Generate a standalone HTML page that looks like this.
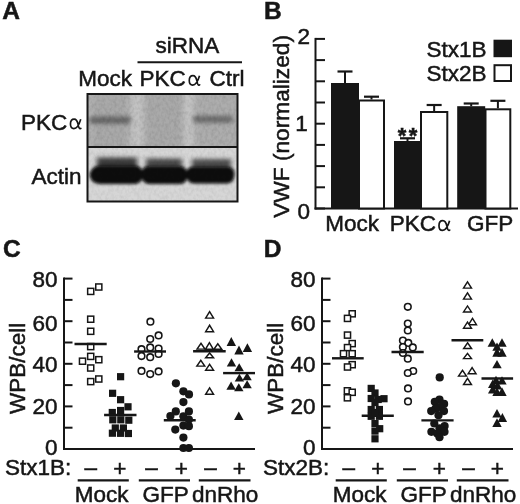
<!DOCTYPE html>
<html><head><meta charset="utf-8"><style>
html,body{margin:0;padding:0;background:#fff;}
body{width:520px;height:504px;overflow:hidden;}
svg{display:block;will-change:transform;font-family:"Liberation Sans",sans-serif;}
text{fill:#161616;stroke:#161616;stroke-width:0.5px;}
</style></head><body>
<svg width="520" height="504" viewBox="0 0 520 504">
<rect width="520" height="504" fill="#fff"/>
<text x="2.3" y="19.4" font-size="24.5" text-anchor="start" font-weight="bold" >A</text>
<text x="155.5" y="53" font-size="22.5" text-anchor="start" font-weight="normal" >siRNA</text>
<line x1="137.5" y1="62.2" x2="242" y2="62.2" stroke="#161616" stroke-width="2"/>
<text x="78.2" y="86" font-size="22.5" text-anchor="start" font-weight="normal" >Mock</text>
<text x="139.6" y="86" font-size="22.5" text-anchor="start" font-weight="normal" >PKC</text>
<path transform="translate(188.5 85.3) scale(0.95)" d="M11.6,-10.0 C10.6,-6.5 8.6,-0.2 4.4,-0.2 C1.9,-0.2 0.8,-2.6 0.8,-5.0 C0.8,-8.0 2.4,-10.1 4.7,-10.1 C7.2,-10.1 8.3,-7.2 8.9,-4.5 C9.3,-2.2 9.8,-0.2 10.9,-0.2 C11.4,-0.2 11.8,-0.6 12.0,-1.2" fill="none" stroke="#161616" stroke-width="1.75"/>
<text x="209.5" y="86" font-size="22.5" text-anchor="start" font-weight="normal" >Ctrl</text>
<text x="20.95" y="129.5" font-size="22.5" text-anchor="start" font-weight="normal" >PKC</text>
<path transform="translate(69.7 128.8) scale(0.95)" d="M11.6,-10.0 C10.6,-6.5 8.6,-0.2 4.4,-0.2 C1.9,-0.2 0.8,-2.6 0.8,-5.0 C0.8,-8.0 2.4,-10.1 4.7,-10.1 C7.2,-10.1 8.3,-7.2 8.9,-4.5 C9.3,-2.2 9.8,-0.2 10.9,-0.2 C11.4,-0.2 11.8,-0.6 12.0,-1.2" fill="none" stroke="#161616" stroke-width="1.75"/>
<text x="81.5" y="184" font-size="22.5" text-anchor="end" font-weight="normal" >Actin</text>
<defs>
<filter id="blur1" x="-20%" y="-50%" width="140%" height="200%"><feGaussianBlur stdDeviation="1.6 1.6"/></filter>
<filter id="blur2" x="-20%" y="-50%" width="140%" height="200%"><feGaussianBlur stdDeviation="2.6 2.2"/></filter>
<filter id="blur3" x="-5%" y="-5%" width="110%" height="110%"><feGaussianBlur stdDeviation="3 1"/></filter>
<filter id="noise" x="0" y="0" width="100%" height="100%"><feTurbulence type="fractalNoise" baseFrequency="0.35 0.25" numOctaves="2" seed="7"/><feColorMatrix type="matrix" values="0 0 0 0 0  0 0 0 0 0  0 0 0 0 0  1.2 0 0 0 -0.45"/></filter>
<filter id="blur4" x="-20%" y="-80%" width="140%" height="260%"><feGaussianBlur stdDeviation="2 2.2"/></filter>
<clipPath id="cpTop"><rect x="88" y="95" width="149" height="51"/></clipPath>
<clipPath id="cpBot"><rect x="88" y="148" width="149" height="53"/></clipPath>
</defs>
<g clip-path="url(#cpTop)">
<rect x="88" y="95" width="149" height="51" fill="#a9a9a9" stroke="none" stroke-width="0"/>
<g filter="url(#blur3)">
<rect x="130" y="93" width="14" height="56" fill="#c3c3c3" stroke="none" stroke-width="0"/>
<rect x="184" y="93" width="9" height="56" fill="#c8c8c8" stroke="none" stroke-width="0"/>
<rect x="88" y="93" width="4" height="56" fill="#b8b8b8" stroke="none" stroke-width="0"/>
<rect x="195" y="93" width="42" height="56" fill="#adadad" stroke="none" stroke-width="0"/>
</g>
<g filter="url(#blur4)">
<rect x="89.5" y="116.5" width="41.5" height="7.2" rx="3.5" fill="#666666"/>
<rect x="193" y="115.8" width="40" height="7" rx="3.5" fill="#6a6a6a"/>
</g>
</g>
<g clip-path="url(#cpBot)">
<rect x="88" y="148" width="149" height="53" fill="#d6d6d6" stroke="none" stroke-width="0"/>
<g filter="url(#blur2)">
<rect x="97" y="157.5" width="40" height="11" fill="#3a3a3a" stroke="none" stroke-width="0"/>
<rect x="146" y="158.5" width="36" height="10" fill="#4a4a4a" stroke="none" stroke-width="0"/>
<rect x="192" y="159" width="39" height="10" fill="#4e4e4e" stroke="none" stroke-width="0"/>
</g>
<g filter="url(#blur1)">
<path d="M89.5,175 Q91,166 100,165.5 L135,165.5 Q142.5,166 143,174.5 Q142.5,183.5 135,184 L100,184 Q91,183.5 89.5,175 Z" fill="#070707"/>
<path d="M141,174.5 Q141.5,166 149,166 L180,166 Q187,166.5 187.5,174.5 Q187,184 180,184 L149,184 Q141.5,183.5 141,174.5 Z" fill="#070707"/>
<path d="M186,174 Q186.5,166.5 194,166.5 L227,166.5 Q234.5,167 234.5,174 Q234.5,183 227,183.5 L194,183.5 Q186.5,183 186,174 Z" fill="#070707"/>
</g>
</g>
<rect x="88" y="95" width="149" height="51" filter="url(#noise)" opacity="0.16"/>
<rect x="88" y="148" width="149" height="53" filter="url(#noise)" opacity="0.10"/>
<rect x="87.5" y="94" width="150" height="107.5" fill="none" stroke="#161616" stroke-width="2"/>
<line x1="87.5" y1="147" x2="237.5" y2="147" stroke="#161616" stroke-width="2"/>
<text x="264" y="19.3" font-size="24.5" text-anchor="start" font-weight="bold" >B</text>
<line x1="315.5" y1="37.9" x2="315.5" y2="209.5" stroke="#161616" stroke-width="2"/>
<line x1="314.5" y1="208.5" x2="518" y2="208.5" stroke="#161616" stroke-width="2"/>
<line x1="315.5" y1="38.9" x2="325" y2="38.9" stroke="#161616" stroke-width="2"/>
<line x1="315.5" y1="60.099999999999994" x2="325" y2="60.099999999999994" stroke="#161616" stroke-width="2"/>
<line x1="315.5" y1="81.3" x2="325" y2="81.3" stroke="#161616" stroke-width="2"/>
<line x1="315.5" y1="102.5" x2="325" y2="102.5" stroke="#161616" stroke-width="2"/>
<line x1="315.5" y1="123.69999999999999" x2="325" y2="123.69999999999999" stroke="#161616" stroke-width="2"/>
<line x1="315.5" y1="144.9" x2="325" y2="144.9" stroke="#161616" stroke-width="2"/>
<line x1="315.5" y1="166.1" x2="325" y2="166.1" stroke="#161616" stroke-width="2"/>
<line x1="315.5" y1="187.3" x2="325" y2="187.3" stroke="#161616" stroke-width="2"/>
<line x1="315.5" y1="208.5" x2="325" y2="208.5" stroke="#161616" stroke-width="2"/>
<text x="297.5" y="44" font-size="22.5" text-anchor="start" font-weight="normal" >2</text>
<text x="295.2" y="131.2" font-size="22.5" text-anchor="start" font-weight="normal" >1</text>
<text x="297.5" y="218.8" font-size="22.5" text-anchor="start" font-weight="normal" >0</text>
<rect x="331" y="83" width="28" height="125.5" fill="#161616" stroke="none" stroke-width="0"/>
<line x1="345.0" y1="83" x2="345.0" y2="71.5" stroke="#161616" stroke-width="2"/>
<line x1="337.5" y1="71.5" x2="352.5" y2="71.5" stroke="#161616" stroke-width="2.2"/>
<line x1="371.5" y1="99.5" x2="371.5" y2="96.7" stroke="#161616" stroke-width="2"/>
<line x1="364.0" y1="96.7" x2="379.0" y2="96.7" stroke="#161616" stroke-width="2.2"/>
<rect x="359" y="100.5" width="25" height="108.0" fill="#fff" stroke="#161616" stroke-width="2"/>
<rect x="394" y="141" width="27" height="67.5" fill="#161616" stroke="none" stroke-width="0"/>
<line x1="407.5" y1="141" x2="407.5" y2="138.3" stroke="#161616" stroke-width="2"/>
<line x1="400.0" y1="138.3" x2="415.0" y2="138.3" stroke="#161616" stroke-width="2.2"/>
<line x1="434.15" y1="111" x2="434.15" y2="105" stroke="#161616" stroke-width="2"/>
<line x1="426.65" y1="105" x2="441.65" y2="105" stroke="#161616" stroke-width="2.2"/>
<rect x="421" y="112" width="26.30000000000001" height="96.5" fill="#fff" stroke="#161616" stroke-width="2"/>
<rect x="457.2" y="106.2" width="28.0" height="102.3" fill="#161616" stroke="none" stroke-width="0"/>
<line x1="471.2" y1="106.2" x2="471.2" y2="103.5" stroke="#161616" stroke-width="2"/>
<line x1="463.7" y1="103.5" x2="478.7" y2="103.5" stroke="#161616" stroke-width="2.2"/>
<line x1="497.9" y1="108.3" x2="497.9" y2="100.8" stroke="#161616" stroke-width="2"/>
<line x1="490.4" y1="100.8" x2="505.4" y2="100.8" stroke="#161616" stroke-width="2.2"/>
<rect x="485.5" y="109.3" width="24.80000000000001" height="99.2" fill="#fff" stroke="#161616" stroke-width="2"/>
<text x="397.7" y="142.6" font-size="22" text-anchor="start" font-weight="bold" letter-spacing="2.4">**</text>
<text x="426.5" y="56.5" font-size="22.5" text-anchor="start" font-weight="normal" >Stx1B</text>
<rect x="493.5" y="39.7" width="18.5" height="17.5" fill="#161616" stroke="none" stroke-width="0"/>
<text x="426.5" y="81.2" font-size="22.5" text-anchor="start" font-weight="normal" >Stx2B</text>
<rect x="494.5" y="65.2" width="16.5" height="15.8" fill="#fff" stroke="#161616" stroke-width="2"/>
<text x="325.2" y="230.8" font-size="22.5" text-anchor="start" font-weight="normal" >Mock</text>
<text x="389.65" y="230.8" font-size="22.5" text-anchor="start" font-weight="normal" >PKC</text>
<path transform="translate(438.2 230.6) scale(0.98)" d="M11.6,-10.0 C10.6,-6.5 8.6,-0.2 4.4,-0.2 C1.9,-0.2 0.8,-2.6 0.8,-5.0 C0.8,-8.0 2.4,-10.1 4.7,-10.1 C7.2,-10.1 8.3,-7.2 8.9,-4.5 C9.3,-2.2 9.8,-0.2 10.9,-0.2 C11.4,-0.2 11.8,-0.6 12.0,-1.2" fill="none" stroke="#161616" stroke-width="1.75"/>
<text x="467" y="230.8" font-size="22.5" text-anchor="start" font-weight="normal" >GFP</text>
<text x="0" y="0" font-size="22.7" text-anchor="middle" font-weight="normal" transform="translate(289 126.4) rotate(-90)">VWF (normalized)</text>
<text x="3.0" y="257" font-size="24.5" text-anchor="start" font-weight="bold" >C</text>
<line x1="64" y1="277.6" x2="64" y2="450.0" stroke="#161616" stroke-width="2"/>
<line x1="63" y1="449.0" x2="255" y2="449.0" stroke="#161616" stroke-width="2"/>
<line x1="64" y1="449.0" x2="72.5" y2="449.0" stroke="#161616" stroke-width="2"/>
<line x1="64" y1="427.7" x2="72.5" y2="427.7" stroke="#161616" stroke-width="2"/>
<line x1="64" y1="406.4" x2="72.5" y2="406.4" stroke="#161616" stroke-width="2"/>
<line x1="64" y1="385.1" x2="72.5" y2="385.1" stroke="#161616" stroke-width="2"/>
<line x1="64" y1="363.8" x2="72.5" y2="363.8" stroke="#161616" stroke-width="2"/>
<line x1="64" y1="342.5" x2="72.5" y2="342.5" stroke="#161616" stroke-width="2"/>
<line x1="64" y1="321.20000000000005" x2="72.5" y2="321.20000000000005" stroke="#161616" stroke-width="2"/>
<line x1="64" y1="299.90000000000003" x2="72.5" y2="299.90000000000003" stroke="#161616" stroke-width="2"/>
<line x1="64" y1="278.6" x2="72.5" y2="278.6" stroke="#161616" stroke-width="2"/>
<text x="57.5" y="286.6" font-size="22.5" text-anchor="end" font-weight="normal" >80</text>
<text x="57.5" y="331.2" font-size="22.5" text-anchor="end" font-weight="normal" >60</text>
<text x="57.5" y="372.4" font-size="22.5" text-anchor="end" font-weight="normal" >40</text>
<text x="57.5" y="413.8" font-size="22.5" text-anchor="end" font-weight="normal" >20</text>
<text x="57.5" y="455.1" font-size="22.5" text-anchor="end" font-weight="normal" >0</text>
<text x="0" y="0" font-size="22.5" text-anchor="middle" font-weight="normal" transform="translate(24.6 368.3) rotate(-90)">WPB/cell</text>
<text x="5" y="475.4" font-size="22.5" text-anchor="start" font-weight="normal" >Stx1B:</text>
<text x="90.7" y="474.8" font-size="22.5" text-anchor="middle" font-weight="normal" >&#8211;</text>
<text x="151.5" y="474.8" font-size="22.5" text-anchor="middle" font-weight="normal" >&#8211;</text>
<text x="210.5" y="474.8" font-size="22.5" text-anchor="middle" font-weight="normal" >&#8211;</text>
<text x="119.8" y="476" font-size="22.5" text-anchor="middle" font-weight="normal" >+</text>
<text x="181.2" y="476" font-size="22.5" text-anchor="middle" font-weight="normal" >+</text>
<text x="239.4" y="476" font-size="22.5" text-anchor="middle" font-weight="normal" >+</text>
<line x1="77.7" y1="480.3" x2="128.8" y2="480.3" stroke="#161616" stroke-width="2.2"/>
<line x1="138.8" y1="480.3" x2="190" y2="480.3" stroke="#161616" stroke-width="2.2"/>
<line x1="198.8" y1="480.3" x2="250.5" y2="480.3" stroke="#161616" stroke-width="2.2"/>
<text x="74.8" y="501.5" font-size="22.5" text-anchor="start" font-weight="normal" >Mock</text>
<text x="142.5" y="501.5" font-size="22.5" text-anchor="start" font-weight="normal" >GFP</text>
<text x="192" y="501.5" font-size="22.5" text-anchor="start" font-weight="normal" >dnRho</text>
<text x="263.7" y="257" font-size="24.5" text-anchor="start" font-weight="bold" >D</text>
<line x1="322" y1="277.6" x2="322" y2="450.0" stroke="#161616" stroke-width="2"/>
<line x1="321" y1="449.0" x2="513" y2="449.0" stroke="#161616" stroke-width="2"/>
<line x1="322" y1="449.0" x2="330.5" y2="449.0" stroke="#161616" stroke-width="2"/>
<line x1="322" y1="427.7" x2="330.5" y2="427.7" stroke="#161616" stroke-width="2"/>
<line x1="322" y1="406.4" x2="330.5" y2="406.4" stroke="#161616" stroke-width="2"/>
<line x1="322" y1="385.1" x2="330.5" y2="385.1" stroke="#161616" stroke-width="2"/>
<line x1="322" y1="363.8" x2="330.5" y2="363.8" stroke="#161616" stroke-width="2"/>
<line x1="322" y1="342.5" x2="330.5" y2="342.5" stroke="#161616" stroke-width="2"/>
<line x1="322" y1="321.20000000000005" x2="330.5" y2="321.20000000000005" stroke="#161616" stroke-width="2"/>
<line x1="322" y1="299.90000000000003" x2="330.5" y2="299.90000000000003" stroke="#161616" stroke-width="2"/>
<line x1="322" y1="278.6" x2="330.5" y2="278.6" stroke="#161616" stroke-width="2"/>
<text x="315.5" y="286.6" font-size="22.5" text-anchor="end" font-weight="normal" >80</text>
<text x="315.5" y="331.2" font-size="22.5" text-anchor="end" font-weight="normal" >60</text>
<text x="315.5" y="372.4" font-size="22.5" text-anchor="end" font-weight="normal" >40</text>
<text x="315.5" y="413.8" font-size="22.5" text-anchor="end" font-weight="normal" >20</text>
<text x="315.5" y="455.1" font-size="22.5" text-anchor="end" font-weight="normal" >0</text>
<text x="0" y="0" font-size="22.5" text-anchor="middle" font-weight="normal" transform="translate(282.6 368.3) rotate(-90)">WPB/cell</text>
<text x="263" y="475.4" font-size="22.5" text-anchor="start" font-weight="normal" >Stx2B:</text>
<text x="348.7" y="474.8" font-size="22.5" text-anchor="middle" font-weight="normal" >&#8211;</text>
<text x="409.5" y="474.8" font-size="22.5" text-anchor="middle" font-weight="normal" >&#8211;</text>
<text x="468.5" y="474.8" font-size="22.5" text-anchor="middle" font-weight="normal" >&#8211;</text>
<text x="377.8" y="476" font-size="22.5" text-anchor="middle" font-weight="normal" >+</text>
<text x="439.2" y="476" font-size="22.5" text-anchor="middle" font-weight="normal" >+</text>
<text x="497.4" y="476" font-size="22.5" text-anchor="middle" font-weight="normal" >+</text>
<line x1="335.7" y1="480.3" x2="386.8" y2="480.3" stroke="#161616" stroke-width="2.2"/>
<line x1="396.8" y1="480.3" x2="448" y2="480.3" stroke="#161616" stroke-width="2.2"/>
<line x1="456.8" y1="480.3" x2="508.5" y2="480.3" stroke="#161616" stroke-width="2.2"/>
<text x="332.8" y="501.5" font-size="22.5" text-anchor="start" font-weight="normal" >Mock</text>
<text x="400.5" y="501.5" font-size="22.5" text-anchor="start" font-weight="normal" >GFP</text>
<text x="450" y="501.5" font-size="22.5" text-anchor="start" font-weight="normal" >dnRho</text>
<rect x="87.65" y="288.34999999999997" width="6.1" height="6.1" fill="#fff" stroke="#161616" stroke-width="1.5"/>
<rect x="95.75" y="283.95" width="6.1" height="6.1" fill="#fff" stroke="#161616" stroke-width="1.5"/>
<rect x="87.65" y="316.15" width="6.1" height="6.1" fill="#fff" stroke="#161616" stroke-width="1.5"/>
<rect x="87.65" y="328.25" width="6.1" height="6.1" fill="#fff" stroke="#161616" stroke-width="1.5"/>
<rect x="87.65" y="343.55" width="6.1" height="6.1" fill="#fff" stroke="#161616" stroke-width="1.5"/>
<rect x="87.65" y="353.34999999999997" width="6.1" height="6.1" fill="#fff" stroke="#161616" stroke-width="1.5"/>
<rect x="79.45" y="358.15" width="6.1" height="6.1" fill="#fff" stroke="#161616" stroke-width="1.5"/>
<rect x="95.75" y="356.65" width="6.1" height="6.1" fill="#fff" stroke="#161616" stroke-width="1.5"/>
<rect x="87.65" y="364.95" width="6.1" height="6.1" fill="#fff" stroke="#161616" stroke-width="1.5"/>
<rect x="87.65" y="378.55" width="6.1" height="6.1" fill="#fff" stroke="#161616" stroke-width="1.5"/>
<rect x="95.75" y="375.95" width="6.1" height="6.1" fill="#fff" stroke="#161616" stroke-width="1.5"/>
<line x1="74.5" y1="344" x2="106.7" y2="344" stroke="#161616" stroke-width="2.4"/>
<rect x="117.0" y="373.09999999999997" width="7.2" height="7.2" fill="#161616"/>
<rect x="109.0" y="389.7" width="7.2" height="7.2" fill="#161616"/>
<rect x="117.0" y="396.09999999999997" width="7.2" height="7.2" fill="#161616"/>
<rect x="124.4" y="403.2" width="7.2" height="7.2" fill="#161616"/>
<rect x="108.7" y="408.9" width="7.2" height="7.2" fill="#161616"/>
<rect x="117.0" y="406.9" width="7.2" height="7.2" fill="#161616"/>
<rect x="109.2" y="416.2" width="7.2" height="7.2" fill="#161616"/>
<rect x="117.2" y="416.2" width="7.2" height="7.2" fill="#161616"/>
<rect x="125.20000000000002" y="416.59999999999997" width="7.2" height="7.2" fill="#161616"/>
<rect x="111.7" y="424.4" width="7.2" height="7.2" fill="#161616"/>
<rect x="119.80000000000001" y="424.4" width="7.2" height="7.2" fill="#161616"/>
<rect x="108.80000000000001" y="429.59999999999997" width="7.2" height="7.2" fill="#161616"/>
<rect x="116.9" y="429.7" width="7.2" height="7.2" fill="#161616"/>
<rect x="124.80000000000001" y="429.9" width="7.2" height="7.2" fill="#161616"/>
<line x1="104.1" y1="415" x2="136.5" y2="415" stroke="#161616" stroke-width="2.4"/>
<circle cx="150.4" cy="321.7" r="3.3" fill="#fff" stroke="#161616" stroke-width="1.6"/>
<circle cx="158.6" cy="335.4" r="3.3" fill="#fff" stroke="#161616" stroke-width="1.6"/>
<circle cx="150.2" cy="339" r="3.3" fill="#fff" stroke="#161616" stroke-width="1.6"/>
<circle cx="150.2" cy="347.4" r="3.3" fill="#fff" stroke="#161616" stroke-width="1.6"/>
<circle cx="141.5" cy="349.2" r="3.3" fill="#fff" stroke="#161616" stroke-width="1.6"/>
<circle cx="158.6" cy="348.5" r="3.3" fill="#fff" stroke="#161616" stroke-width="1.6"/>
<circle cx="158.6" cy="354" r="3.3" fill="#fff" stroke="#161616" stroke-width="1.6"/>
<circle cx="141.5" cy="356.1" r="3.3" fill="#fff" stroke="#161616" stroke-width="1.6"/>
<circle cx="150.2" cy="357.2" r="3.3" fill="#fff" stroke="#161616" stroke-width="1.6"/>
<circle cx="141.5" cy="370.9" r="3.3" fill="#fff" stroke="#161616" stroke-width="1.6"/>
<circle cx="150.2" cy="374.1" r="3.3" fill="#fff" stroke="#161616" stroke-width="1.6"/>
<circle cx="158.6" cy="371.4" r="3.3" fill="#fff" stroke="#161616" stroke-width="1.6"/>
<line x1="134.1" y1="351.5" x2="166" y2="351.5" stroke="#161616" stroke-width="2.4"/>
<circle cx="175.9" cy="383.3" r="4.1" fill="#161616"/>
<circle cx="183.4" cy="391.3" r="4.1" fill="#161616"/>
<circle cx="189" cy="394.4" r="4.1" fill="#161616"/>
<circle cx="183.4" cy="402.1" r="4.1" fill="#161616"/>
<circle cx="175.8" cy="411.4" r="4.1" fill="#161616"/>
<circle cx="188.9" cy="411.4" r="4.1" fill="#161616"/>
<circle cx="170.4" cy="416.1" r="4.1" fill="#161616"/>
<circle cx="183.4" cy="416.3" r="4.1" fill="#161616"/>
<circle cx="188.9" cy="419.6" r="4.1" fill="#161616"/>
<circle cx="183.4" cy="425.6" r="4.1" fill="#161616"/>
<circle cx="188.9" cy="426.2" r="4.1" fill="#161616"/>
<circle cx="175.3" cy="429.6" r="4.1" fill="#161616"/>
<circle cx="183.4" cy="437.6" r="4.1" fill="#161616"/>
<circle cx="183.4" cy="448" r="4.1" fill="#161616"/>
<circle cx="188.9" cy="448" r="4.1" fill="#161616"/>
<line x1="163.8" y1="420.2" x2="195.7" y2="420.2" stroke="#161616" stroke-width="2.4"/>
<polygon points="205.65,318.1 213.54999999999998,318.1 209.6,311.55" fill="#fff" stroke="#161616" stroke-width="1.45" stroke-linejoin="miter"/>
<polygon points="205.65,331.7 213.54999999999998,331.7 209.6,325.25" fill="#fff" stroke="#161616" stroke-width="1.45" stroke-linejoin="miter"/>
<polygon points="197.05,349.1 204.95,349.1 201,343.25" fill="#fff" stroke="#161616" stroke-width="1.45" stroke-linejoin="miter"/>
<polygon points="205.45000000000002,349.3 213.35,349.3 209.4,342.65" fill="#fff" stroke="#161616" stroke-width="1.45" stroke-linejoin="miter"/>
<polygon points="213.85000000000002,349.3 221.75,349.3 217.8,343.84999999999997" fill="#fff" stroke="#161616" stroke-width="1.45" stroke-linejoin="miter"/>
<polygon points="205.65,357.7 213.54999999999998,357.7 209.6,352.95" fill="#fff" stroke="#161616" stroke-width="1.45" stroke-linejoin="miter"/>
<polygon points="196.85000000000002,366.1 204.75,366.1 200.8,360.34999999999997" fill="#fff" stroke="#161616" stroke-width="1.45" stroke-linejoin="miter"/>
<polygon points="205.65,370.2 213.54999999999998,370.2 209.6,364.25" fill="#fff" stroke="#161616" stroke-width="1.45" stroke-linejoin="miter"/>
<polygon points="205.65,394.3 213.54999999999998,394.3 209.6,387.84999999999997" fill="#fff" stroke="#161616" stroke-width="1.45" stroke-linejoin="miter"/>
<line x1="193.1" y1="351.2" x2="225.7" y2="351.2" stroke="#161616" stroke-width="2.4"/>
<polygon points="226.60000000000002,346.1 236.0,346.1 231.3,337.1" fill="#161616"/>
<polygon points="234.3,354.4 243.7,354.4 239,345.5" fill="#161616"/>
<polygon points="242.70000000000002,352 252.1,352 247.4,343.3" fill="#161616"/>
<polygon points="226.8,366.5 236.2,366.5 231.5,358.3" fill="#161616"/>
<polygon points="234.5,371.2 243.89999999999998,371.2 239.2,363.2" fill="#161616"/>
<polygon points="234.70000000000002,381.4 244.1,381.4 239.4,373.7" fill="#161616"/>
<polygon points="242.4,380.2 251.79999999999998,380.2 247.1,372.5" fill="#161616"/>
<polygon points="226.4,389.8 235.79999999999998,389.8 231.1,381.4" fill="#161616"/>
<polygon points="234.10000000000002,391.2 243.5,391.2 238.8,383.2" fill="#161616"/>
<polygon points="242.4,388.3 251.79999999999998,388.3 247.1,380.2" fill="#161616"/>
<polygon points="234.10000000000002,420 243.5,420 238.8,411.4" fill="#161616"/>
<line x1="223.1" y1="373.1" x2="255" y2="373.1" stroke="#161616" stroke-width="2.4"/>
<rect x="349.15" y="310.75" width="6.1" height="6.1" fill="#fff" stroke="#161616" stroke-width="1.5"/>
<rect x="344.45" y="315.34999999999997" width="6.1" height="6.1" fill="#fff" stroke="#161616" stroke-width="1.5"/>
<rect x="344.45" y="332.05" width="6.1" height="6.1" fill="#fff" stroke="#161616" stroke-width="1.5"/>
<rect x="349.15" y="340.55" width="6.1" height="6.1" fill="#fff" stroke="#161616" stroke-width="1.5"/>
<rect x="344.45" y="344.55" width="6.1" height="6.1" fill="#fff" stroke="#161616" stroke-width="1.5"/>
<rect x="340.45" y="350.65" width="6.1" height="6.1" fill="#fff" stroke="#161616" stroke-width="1.5"/>
<rect x="349.15" y="350.65" width="6.1" height="6.1" fill="#fff" stroke="#161616" stroke-width="1.5"/>
<rect x="349.15" y="361.65" width="6.1" height="6.1" fill="#fff" stroke="#161616" stroke-width="1.5"/>
<rect x="344.45" y="363.95" width="6.1" height="6.1" fill="#fff" stroke="#161616" stroke-width="1.5"/>
<rect x="344.34999999999997" y="387.75" width="6.1" height="6.1" fill="#fff" stroke="#161616" stroke-width="1.5"/>
<rect x="349.15" y="389.25" width="6.1" height="6.1" fill="#fff" stroke="#161616" stroke-width="1.5"/>
<rect x="344.34999999999997" y="394.75" width="6.1" height="6.1" fill="#fff" stroke="#161616" stroke-width="1.5"/>
<line x1="332" y1="358.3" x2="363.7" y2="358.3" stroke="#161616" stroke-width="2.4"/>
<rect x="367.59999999999997" y="384.79999999999995" width="7.2" height="7.2" fill="#161616"/>
<rect x="371.4" y="389.4" width="7.2" height="7.2" fill="#161616"/>
<rect x="367.59999999999997" y="394.9" width="7.2" height="7.2" fill="#161616"/>
<rect x="380.4" y="395.09999999999997" width="7.2" height="7.2" fill="#161616"/>
<rect x="374.59999999999997" y="395.9" width="7.2" height="7.2" fill="#161616"/>
<rect x="367.59999999999997" y="405.9" width="7.2" height="7.2" fill="#161616"/>
<rect x="375.79999999999995" y="405.9" width="7.2" height="7.2" fill="#161616"/>
<rect x="367.59999999999997" y="412.7" width="7.2" height="7.2" fill="#161616"/>
<rect x="375.79999999999995" y="412.7" width="7.2" height="7.2" fill="#161616"/>
<rect x="371.4" y="398.9" width="7.2" height="7.2" fill="#161616"/>
<rect x="371.4" y="408.9" width="7.2" height="7.2" fill="#161616"/>
<rect x="371.4" y="420.0" width="7.2" height="7.2" fill="#161616"/>
<rect x="376.09999999999997" y="425.09999999999997" width="7.2" height="7.2" fill="#161616"/>
<rect x="371.4" y="427.5" width="7.2" height="7.2" fill="#161616"/>
<rect x="371.4" y="435.2" width="7.2" height="7.2" fill="#161616"/>
<line x1="361.7" y1="415.8" x2="393.8" y2="415.8" stroke="#161616" stroke-width="2.4"/>
<circle cx="407.8" cy="306.8" r="3.3" fill="#fff" stroke="#161616" stroke-width="1.6"/>
<circle cx="407.8" cy="323.5" r="3.3" fill="#fff" stroke="#161616" stroke-width="1.6"/>
<circle cx="407.8" cy="330.5" r="3.3" fill="#fff" stroke="#161616" stroke-width="1.6"/>
<circle cx="402.9" cy="340.5" r="3.3" fill="#fff" stroke="#161616" stroke-width="1.6"/>
<circle cx="408.3" cy="342.9" r="3.3" fill="#fff" stroke="#161616" stroke-width="1.6"/>
<circle cx="402.9" cy="347.1" r="3.3" fill="#fff" stroke="#161616" stroke-width="1.6"/>
<circle cx="412.8" cy="347.4" r="3.3" fill="#fff" stroke="#161616" stroke-width="1.6"/>
<circle cx="402.9" cy="353" r="3.3" fill="#fff" stroke="#161616" stroke-width="1.6"/>
<circle cx="407.8" cy="358.7" r="3.3" fill="#fff" stroke="#161616" stroke-width="1.6"/>
<circle cx="413.2" cy="371" r="3.3" fill="#fff" stroke="#161616" stroke-width="1.6"/>
<circle cx="407.8" cy="373" r="3.3" fill="#fff" stroke="#161616" stroke-width="1.6"/>
<circle cx="408" cy="388.4" r="3.3" fill="#fff" stroke="#161616" stroke-width="1.6"/>
<circle cx="408" cy="401.4" r="3.3" fill="#fff" stroke="#161616" stroke-width="1.6"/>
<line x1="391.5" y1="352" x2="423.7" y2="352" stroke="#161616" stroke-width="2.4"/>
<circle cx="439.7" cy="377.4" r="4.1" fill="#161616"/>
<circle cx="439.5" cy="399.6" r="4.1" fill="#161616"/>
<circle cx="434.8" cy="401.8" r="4.1" fill="#161616"/>
<circle cx="444.1" cy="403.9" r="4.1" fill="#161616"/>
<circle cx="439.5" cy="407" r="4.1" fill="#161616"/>
<circle cx="435.5" cy="408.5" r="4.1" fill="#161616"/>
<circle cx="431.2" cy="411.1" r="4.1" fill="#161616"/>
<circle cx="444" cy="411.1" r="4.1" fill="#161616"/>
<circle cx="438.5" cy="415.2" r="4.1" fill="#161616"/>
<circle cx="434.3" cy="423.5" r="4.1" fill="#161616"/>
<circle cx="444.6" cy="426.1" r="4.1" fill="#161616"/>
<circle cx="439.5" cy="428.4" r="4.1" fill="#161616"/>
<circle cx="431.4" cy="431.8" r="4.1" fill="#161616"/>
<circle cx="444.5" cy="431.8" r="4.1" fill="#161616"/>
<circle cx="437.2" cy="433.5" r="4.1" fill="#161616"/>
<circle cx="439.5" cy="437.2" r="4.1" fill="#161616"/>
<line x1="421.4" y1="420.4" x2="453.6" y2="420.4" stroke="#161616" stroke-width="2.4"/>
<polygon points="463.55,288.1 471.45,288.1 467.5,281.95" fill="#fff" stroke="#161616" stroke-width="1.45" stroke-linejoin="miter"/>
<polygon points="463.55,299.1 471.45,299.1 467.5,292.84999999999997" fill="#fff" stroke="#161616" stroke-width="1.45" stroke-linejoin="miter"/>
<polygon points="463.55,311.90000000000003 471.45,311.90000000000003 467.5,305.95" fill="#fff" stroke="#161616" stroke-width="1.45" stroke-linejoin="miter"/>
<polygon points="468.55,324.7 476.45,324.7 472.5,318.45" fill="#fff" stroke="#161616" stroke-width="1.45" stroke-linejoin="miter"/>
<polygon points="463.55,328.2 471.45,328.2 467.5,322.05" fill="#fff" stroke="#161616" stroke-width="1.45" stroke-linejoin="miter"/>
<polygon points="463.65000000000003,348.5 471.55,348.5 467.6,342.84999999999997" fill="#fff" stroke="#161616" stroke-width="1.45" stroke-linejoin="miter"/>
<polygon points="463.55,358.6 471.45,358.6 467.5,353.34999999999997" fill="#fff" stroke="#161616" stroke-width="1.45" stroke-linejoin="miter"/>
<polygon points="468.15000000000003,373.7 476.05,373.7 472.1,367.55" fill="#fff" stroke="#161616" stroke-width="1.45" stroke-linejoin="miter"/>
<polygon points="458.55,376.1 466.45,376.1 462.5,370.34999999999997" fill="#fff" stroke="#161616" stroke-width="1.45" stroke-linejoin="miter"/>
<polygon points="463.55,384.5 471.45,384.5 467.5,378.25" fill="#fff" stroke="#161616" stroke-width="1.45" stroke-linejoin="miter"/>
<line x1="451.5" y1="340.2" x2="483.3" y2="340.2" stroke="#161616" stroke-width="2.4"/>
<polygon points="487.6,346.7 497.0,346.7 492.3,338.2" fill="#161616"/>
<polygon points="497.3,346.7 506.7,346.7 502,338.2" fill="#161616"/>
<polygon points="492.3,350.8 501.7,350.8 497,342.5" fill="#161616"/>
<polygon points="492.3,356.7 501.7,356.7 497,347.5" fill="#161616"/>
<polygon points="497.3,356.7 506.7,356.7 502,348" fill="#161616"/>
<polygon points="492.3,368.3 501.7,368.3 497,360" fill="#161616"/>
<polygon points="491.3,384.3 500.7,384.3 496,375.7" fill="#161616"/>
<polygon points="497.3,384.5 506.7,384.5 502,376.2" fill="#161616"/>
<polygon points="492.8,389.5 502.2,389.5 497.5,381" fill="#161616"/>
<polygon points="488.0,388 497.4,388 492.7,379.5" fill="#161616"/>
<polygon points="488.0,393.5 497.4,393.5 492.7,385" fill="#161616"/>
<polygon points="492.3,395.9 501.7,395.9 497,387.4" fill="#161616"/>
<polygon points="497.3,395.9 506.7,395.9 502,387.3" fill="#161616"/>
<polygon points="492.3,417.6 501.7,417.6 497,409" fill="#161616"/>
<polygon points="497.7,422.1 507.09999999999997,422.1 502.4,412.9" fill="#161616"/>
<polygon points="492.3,426.9 501.7,426.9 497,418.2" fill="#161616"/>
<line x1="481.5" y1="378.5" x2="513.1" y2="378.5" stroke="#161616" stroke-width="2.4"/>
</svg>
</body></html>
